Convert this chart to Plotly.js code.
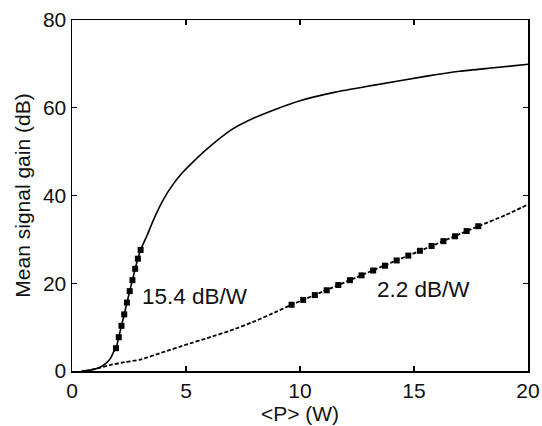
<!DOCTYPE html>
<html>
<head>
<meta charset="utf-8">
<script src="https://cdn.plot.ly/plotly-3.0.1.min.js"></script>
<style>html,body{margin:0;padding:0;background:#fff}#chart{width:542px;height:426px}</style>
</head>
<body>
<div id="chart"></div>
<script>
// Upper (solid) curve: mean signal gain vs <P>
const solidX = [0.4, 0.8, 1.2, 1.5, 1.7, 1.82, 1.93, 2.05, 2.17, 2.29, 2.41, 2.53, 2.65, 2.77, 2.89, 3.01, 3.3, 3.57, 4.0, 4.4, 4.81, 5.3, 5.9, 7.0, 8.0, 9.0, 10.0, 11.5, 13.2, 15.56, 17.0, 18.5, 20.0];
const solidY = [0.0, 0.2, 0.8, 1.8, 3.0, 4.3, 5.2, 7.7, 10.3, 12.9, 15.6, 18.2, 20.7, 23.3, 25.6, 27.6, 31.0, 34.4, 39.0, 42.3, 45.0, 47.6, 50.5, 55.0, 57.7, 59.8, 61.6, 63.5, 65.1, 67.2, 68.3, 69.1, 69.9];
// Lower (dashed) curve
const dashX = [0.6, 1.2, 1.7, 2.3, 3.0, 4.0, 5.0, 6.0, 7.0, 8.0, 9.0, 9.63, 11.0, 12.5, 14.0, 15.5, 17.0, 17.82, 19.0, 19.94];
const dashY = [0.0, 0.7, 1.4, 2.0, 2.6, 4.3, 6.0, 7.6, 9.3, 11.3, 13.6, 15.1, 18.1, 21.4, 24.7, 27.9, 31.2, 33.0, 35.5, 37.8];
// Fitted (marked) segments
const steepX = [1.93, 2.05, 2.17, 2.29, 2.41, 2.53, 2.65, 2.77, 2.89, 3.01];
const steepY = [5.2, 7.7, 10.3, 12.9, 15.6, 18.2, 20.7, 23.3, 25.6, 27.6];
const slowX = [9.63, 10.14, 10.65, 11.17, 11.68, 12.19, 12.70, 13.21, 13.73, 14.24, 14.75, 15.26, 15.77, 16.29, 16.80, 17.31, 17.82];
const slowY = [15.1, 16.2, 17.3, 18.4, 19.6, 20.7, 21.8, 22.9, 24.0, 25.2, 26.3, 27.4, 28.5, 29.6, 30.7, 31.9, 33.0];
const xTicks = [0, 5, 10, 15, 20];
const yTicks = [0, 20, 40, 60, 80];
const labels = ["15.4 dB/W", "2.2 dB/W"];

const FONT = "Liberation Sans, Arial, sans-serif";
const traces = [
  {x: solidX, y: solidY, mode: "lines", line: {color: "#000", width: 1.6, shape: "spline", smoothing: 0.6}, hoverinfo: "skip"},
  {x: dashX, y: dashY, mode: "lines", line: {color: "#000", width: 1.8, dash: "4px,2px", shape: "spline", smoothing: 0.5}, hoverinfo: "skip"},
  {x: steepX, y: steepY, mode: "markers", marker: {symbol: "square", size: 6, color: "#000"}, hoverinfo: "skip"},
  {x: slowX, y: slowY, mode: "markers", marker: {symbol: "square", size: 6, color: "#000"}, hoverinfo: "skip"}
];
const axisCommon = {
  showgrid: false, zeroline: false, showline: true, linecolor: "#000", linewidth: 1.5,
  mirror: "ticks", ticks: "inside", ticklen: 5, tickwidth: 1.2, tickcolor: "#000",
  tickfont: {family: FONT, size: 21, color: "#111"}
};
const layout = {
  width: 542, height: 426,
  margin: {l: 72, r: 14, t: 20, b: 55},
  paper_bgcolor: "#fff", plot_bgcolor: "#fff",
  showlegend: false,
  xaxis: Object.assign({}, axisCommon, {
    range: [0, 20], tickvals: xTicks, ticktext: xTicks.map(String),
    title: {text: "&lt;P&gt; (W)", font: {family: FONT, size: 21, color: "#111"}, standoff: 4}
  }),
  yaxis: Object.assign({}, axisCommon, {
    range: [0, 80], tickvals: yTicks, ticktext: yTicks.map(String),
    title: {text: "Mean signal gain (dB)", font: {family: FONT, size: 21, color: "#111"}, standoff: 6}
  }),
  annotations: [
    {x: 3.0, y: 17.0, xref: "x", yref: "y", text: labels[0], showarrow: false, xanchor: "left", yanchor: "middle", font: {family: FONT, size: 22.5, color: "#111"}},
    {x: 13.3, y: 18.5, xref: "x", yref: "y", text: labels[1], showarrow: false, xanchor: "left", yanchor: "middle", font: {family: FONT, size: 22.5, color: "#111"}}
  ]
};
Plotly.newPlot("chart", traces, layout, {staticPlot: true, displayModeBar: false});
</script>
</body>
</html>
